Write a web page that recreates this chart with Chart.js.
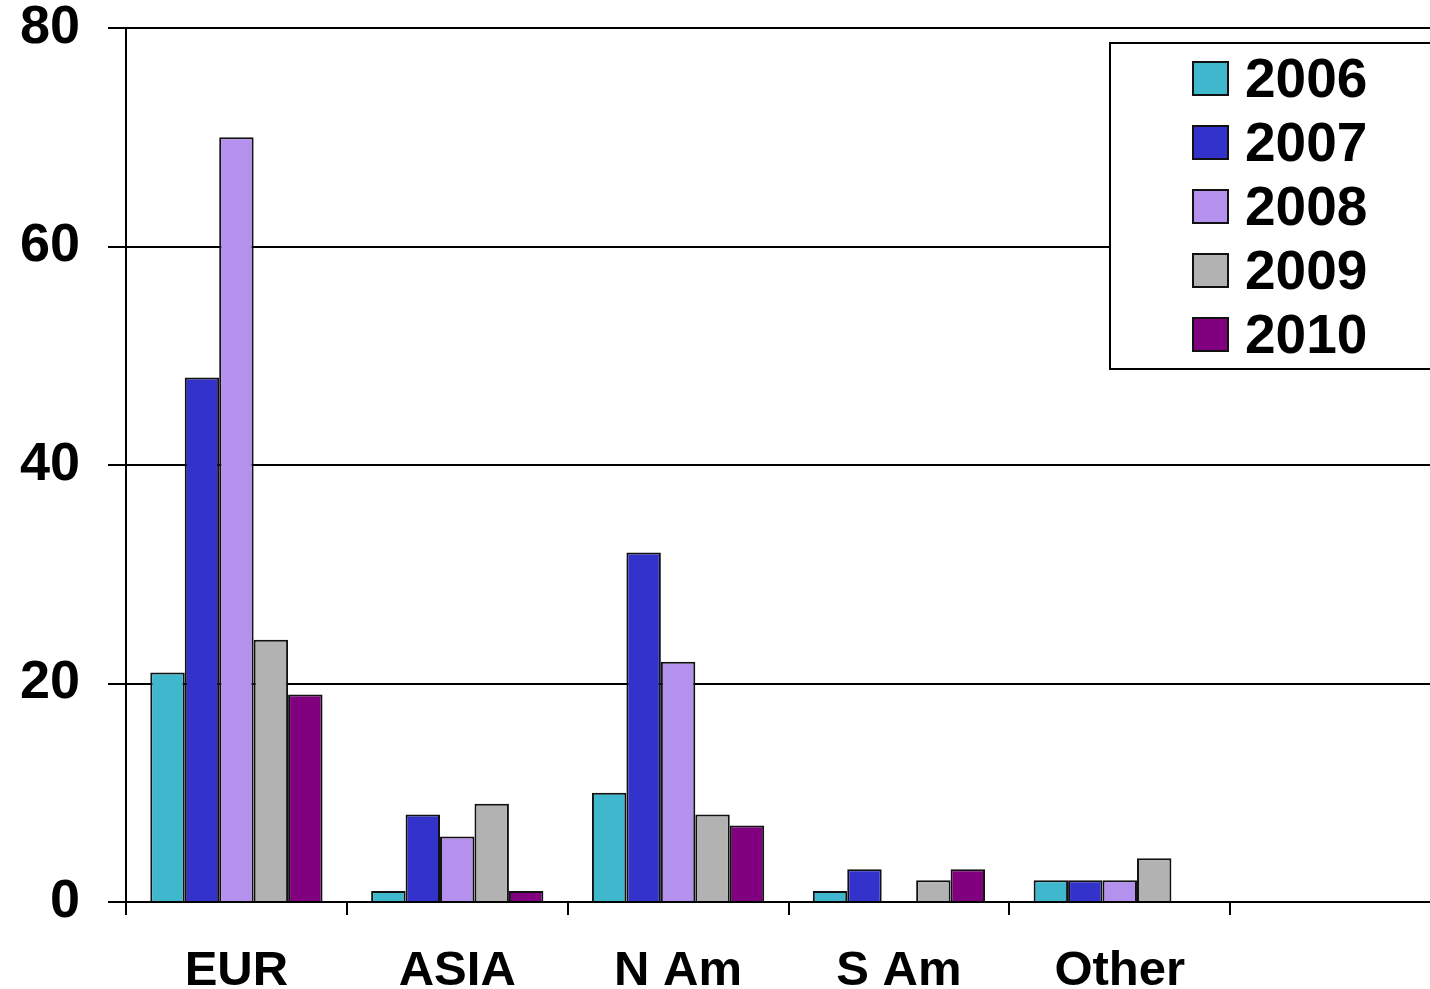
<!DOCTYPE html>
<html>
  <head>
    <script src="https://cdn.jsdelivr.net/npm/chart.js@4/dist/chart.umd.min.js"></script>
    <style>
      body { margin: 0; overflow: hidden; background: #fff; }
      #wrap { position: relative; width: 1460px; height: 989px; }
      #legend {
        position: absolute; left: 1109px; top: 42px; width: 400px; height: 328px;
        box-sizing: border-box; border: 2px solid #000; background: #fff; padding-top: 2px;
        font-family: "Liberation Sans", Arial, sans-serif; font-weight: bold; font-size: 55px;
      }
      .row { display: flex; align-items: center; height: 64px; padding-left: 81px; }
      .sw { width: 33px; height: 31px; border: 2px solid #111; margin-right: 16px; }
    </style>
  </head>
  <body>
    <div id="wrap">
      <canvas id="barChart" width="1460" height="989"></canvas>
      <div id="legend"></div>
    </div>
    <script>
      // data
      const regions = ['EUR', 'ASIA', 'N Am', 'S Am', 'Other', ''];
      const years = ['2006', '2007', '2008', '2009', '2010'];
      const v2006 = [21, 1, 10, 1, 2, 0];
      const v2007 = [48, 8, 32, 3, 2, 0];
      const v2008 = [70, 6, 22, 0, 2, 0];
      const v2009 = [24, 9, 8, 2, 4, 0];
      const v2010 = [19, 1, 7, 3, 0, 0];
      const yTicks = [0, 20, 40, 60, 80];

      const colours = ['#3fb8ce', '#3333cc', '#b391ec', '#b2b2b2', '#800080'];
      const series = [v2006, v2007, v2008, v2009, v2010];

      const datasets = years.map((y, i) => ({
        label: y,
        data: series[i],
        backgroundColor: colours[i],
        borderColor: '#111',
        borderWidth: 2,
        categoryPercentage: 0.78,
        barPercentage: 1.0
      }));

      // html legend
      const leg = document.getElementById('legend');
      years.forEach((y, i) => {
        const row = document.createElement('div');
        row.className = 'row';
        row.innerHTML = '<span class="sw" style="background:' + colours[i] + '"></span><span>' + y + '</span>';
        leg.appendChild(row);
      });

      const font = { family: '"Liberation Sans", Arial, sans-serif', weight: 'bold' };

      const ctx = document.getElementById('barChart').getContext('2d');
      const barChart = new Chart(ctx, {
        type: 'bar',
        data: { labels: regions, datasets: datasets },
        options: {
          responsive: false,
          animation: false,
          layout: { padding: { top: 28, right: 9, left: 0, bottom: 0 } },
          plugins: { legend: { display: false }, tooltip: { enabled: false } },
          scales: {
            x: {
              offset: true,
              grid: { offset: true, drawOnChartArea: false, color: '#000', lineWidth: 2, tickLength: 13 },
              border: { color: '#000', width: 2 },
              ticks: { color: '#000', font: Object.assign({ size: 49 }, font), padding: 27, maxRotation: 0 },
              afterFit: function (s) { s.height = 87; s.paddingLeft = 0; s.paddingRight = 0; }
            },
            y: {
              min: 0,
              max: 80,
              afterBuildTicks: function (s) { s.ticks = yTicks.map(v => ({ value: v })); },
              grid: { color: '#000', lineWidth: 2, tickLength: 18 },
              border: { color: '#000', width: 2 },
              ticks: { color: '#000', font: Object.assign({ size: 54 }, font), padding: 28 },
              afterFit: function (s) { s.width = 126; s.paddingTop = 0; s.paddingBottom = 0; }
            }
          }
        }
      });
    </script>
  </body>
</html>
